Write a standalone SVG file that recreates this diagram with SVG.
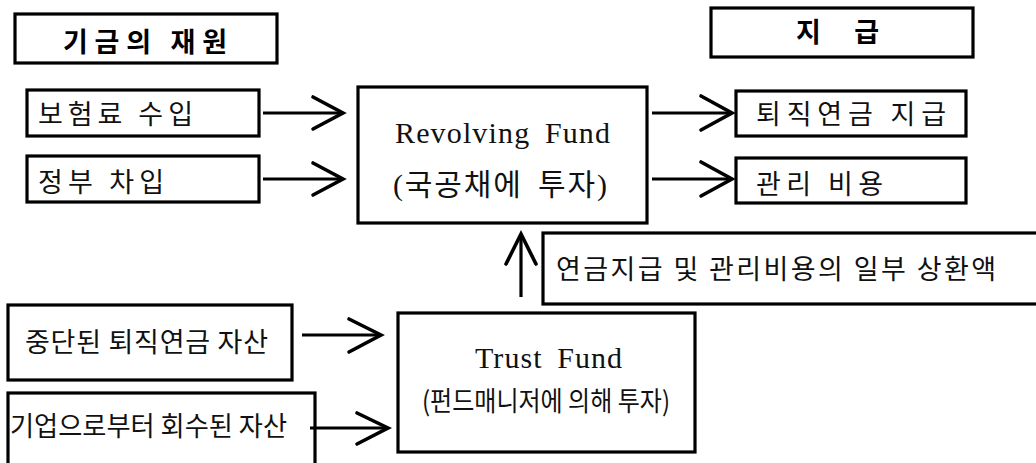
<svg xmlns="http://www.w3.org/2000/svg" width="1036" height="463" viewBox="0 0 1036 463">
  <style>
    .box { fill: #fff; stroke: #000; stroke-width: 3.2; }
    .ln { fill: none; stroke: #000; stroke-width: 3.2; stroke-linecap: butt; }
    .hd { fill: none; stroke: #000; stroke-width: 3.6; stroke-linejoin: miter; stroke-linecap: round; }
    .kr { font-family: "Noto Sans CJK KR", "Noto Sans", sans-serif; font-size: 27px; fill: #111; }
    .title { font-family: "Noto Sans CJK KR", "Noto Sans", sans-serif; font-size: 27px; font-weight: bold; fill: #000; }
    .en { font-family: "Liberation Serif", "Noto Sans CJK KR", serif; font-size: 30px; fill: #111; word-spacing: 6px; }
  </style>

  <!-- section headings -->
  <g id="heading-sources">
    <rect class="box" x="15" y="14" width="262" height="49"/>
    <text class="title" x="63" y="52" textLength="164" lengthAdjust="spacing">기금의 재원</text>
  </g>
  <g id="heading-payments">
    <rect class="box" x="711" y="8" width="262" height="49"/>
    <text class="title" x="796" y="42" textLength="83" lengthAdjust="spacing">지 급</text>
  </g>

  <!-- funding sources -->
  <g id="premiums">
    <rect class="box" x="27" y="90" width="232" height="46"/>
    <text class="kr" x="38" y="124" textLength="155" lengthAdjust="spacing">보험료 수입</text>
  </g>
  <g id="gov-borrowing">
    <rect class="box" x="27" y="156" width="232" height="46"/>
    <text class="kr" x="38" y="192" textLength="126" lengthAdjust="spacing">정부 차입</text>
  </g>

  <!-- revolving fund -->
  <g id="revolving-fund">
    <rect class="box" x="358" y="87" width="289" height="136"/>
    <text class="en" x="395" y="143" textLength="215" lengthAdjust="spacing">Revolving Fund</text>
    <text class="en" x="393" y="195" font-size="28" textLength="214" lengthAdjust="spacing">(국공채에 투자)</text>
  </g>

  <!-- payments -->
  <g id="pension-payment">
    <rect class="box" x="736" y="91" width="230" height="45"/>
    <text class="kr" x="756" y="124" textLength="190" lengthAdjust="spacing">퇴직연금 지급</text>
  </g>
  <g id="admin-cost">
    <rect class="box" x="736" y="158" width="230" height="45"/>
    <text class="kr" x="756" y="194" textLength="127" lengthAdjust="spacing">관리 비용</text>
  </g>

  <!-- reimbursement label -->
  <g id="reimbursement">
    <rect class="box" x="543" y="233" width="500" height="71"/>
    <text class="kr" x="556" y="279" font-size="26" textLength="440" lengthAdjust="spacing">연금지급 및 관리비용의 일부 상환액</text>
  </g>

  <!-- trust fund inputs -->
  <g id="terminated-plans">
    <rect class="box" x="8" y="305" width="284" height="75"/>
    <text class="kr" x="25" y="352" textLength="243" lengthAdjust="spacing">중단된 퇴직연금 자산</text>
  </g>
  <g id="recovered-assets">
    <rect class="box" x="8" y="393" width="307" height="80"/>
    <text class="kr" x="10" y="436" font-size="28" textLength="277" lengthAdjust="spacingAndGlyphs">기업으로부터 회수된 자산</text>
  </g>

  <!-- trust fund -->
  <g id="trust-fund">
    <rect class="box" x="398" y="313" width="297" height="139"/>
    <text class="en" x="475" y="368" textLength="147" lengthAdjust="spacing">Trust Fund</text>
    <text class="kr" x="422" y="411" font-size="27" textLength="248" lengthAdjust="spacingAndGlyphs">(펀드매니저에 의해 투자)</text>
  </g>

  <!-- connectors -->
  <g id="connectors">
    <line class="ln" x1="263" y1="113" x2="342" y2="113"/>
    <polyline class="hd" points="313,97 343,113 313,129"/>
    <line class="ln" x1="263" y1="179" x2="342" y2="179"/>
    <polyline class="hd" points="313,163 343,179 313,195"/>

    <line class="ln" x1="652" y1="113" x2="731" y2="113"/>
    <polyline class="hd" points="701,96 732,113 701,130"/>
    <line class="ln" x1="652" y1="179" x2="731" y2="179"/>
    <polyline class="hd" points="701,162 732,179 701,196"/>

    <line class="ln" x1="521" y1="297" x2="521" y2="234"/>
    <polyline class="hd" points="506,264 521,234 536,264"/>

    <line class="ln" x1="302" y1="335" x2="380" y2="335"/>
    <polyline class="hd" points="349,319 381,335 349,352"/>
    <line class="ln" x1="310" y1="428" x2="387" y2="428"/>
    <polyline class="hd" points="357,413 388,428 357,444"/>
  </g>
</svg>
